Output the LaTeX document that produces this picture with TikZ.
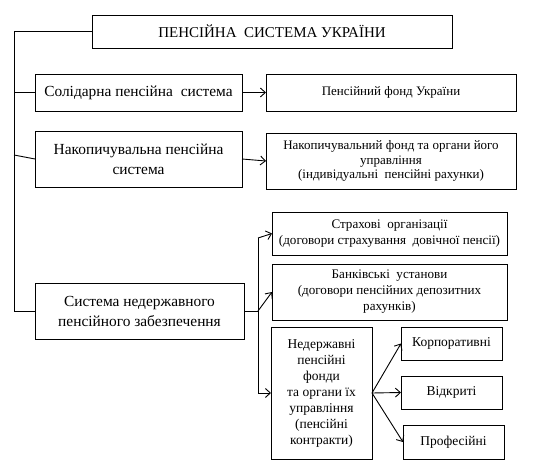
\documentclass[tikz,border=0pt]{standalone}
\usepackage{fontspec}
\setmainfont{Liberation Serif}
\newfontfamily\tnr{Liberation Serif}
\usetikzlibrary{arrows.meta}
\begin{document}
\begin{tikzpicture}[x=1pt,y=-1pt,
  box/.style={draw, line width=0.9pt, inner sep=1pt, align=center, outer sep=0pt},
  fbig/.style={font=\tnr\fontsize{15.4}{20}\selectfont},
  fsmall/.style={font=\tnr\fontsize{13}{14.5}\selectfont},
  fmid/.style={font=\tnr\fontsize{13.1}{16}\selectfont},
  fnar/.style={font=\tnr\fontsize{13.5}{16}\selectfont},
  conn/.style={line width=0.9pt},
  arr/.style={line width=0.9pt, -{Straight Barb[length=5pt,width=9pt,line width=0.9pt]}}]
\useasboundingbox (0,0) rectangle (554,473);
\fill[white] (0,0) rectangle (554,473);
% nodes
\node[box, minimum width=360pt, minimum height=33pt, font=\tnr\fontsize{15}{18}\selectfont] (title) at (272,31.5) {ПЕНСІЙНА~ СИСТЕМА УКРАЇНИ};
\node[box, fbig, minimum width=207pt, minimum height=37pt] (sol) at (138.5,92.5) {\raisebox{-1.5pt}{Солідарна пенсійна~ система}};
\node[box, fsmall, minimum width=250pt, minimum height=37pt] (pf) at (391,92.5) {\raisebox{3pt}{Пенсійний фонд України}};
\node[box, fbig, minimum width=207pt, minimum height=56pt] (nak) at (138.5,159) {Накопичувальна пенсійна\\система};
\node[box, fsmall, minimum width=250pt, minimum height=56pt] (nf) at (391,161) {Накопичувальний фонд та органи його\\управління\\(індивідуальні~ пенсійні рахунки)};
\node[box, fbig, minimum width=209pt, minimum height=56pt] (sys) at (139.5,311) {Система недержавного\\пенсійного забезпечення};
\node[box, fmid, minimum width=235pt, minimum height=43pt] (str) at (389.5,233.5) {Страхові~ організації\\(договори страхування~ довічної пенсії)};
\node[box, fmid, minimum width=235pt, minimum height=56pt] (bank) at (389.5,292) {Банківські~ установи\\(договори пенсійних депозитних\\рахунків)};
\node[box, fnar, minimum width=101pt, minimum height=132pt] (ndf) at (321.5,393) {Недержавні\\пенсійні\\фонди\\та органи їх\\управління\\(пенсійні\\контракти)};
\node[box, fnar, minimum width=101pt, minimum height=33pt] (korp) at (451.5,343.5) {Корпоративні};
\node[box, fnar, minimum width=101pt, minimum height=33pt] (vidk) at (451.5,392.5) {Відкриті};
\node[box, fnar, minimum width=101pt, minimum height=34pt] (prof) at (453.5,442) {Професійні};
% spine
\coordinate (lt) at (14,31.5);
\coordinate (lb) at (14,311);
\coordinate (ln) at (14,155);
\draw[conn] (title.west) -- (lt) -- (lb) -- (sys.west);
\draw[conn] (sol.west) -- (sol.west -| lt);
\draw[conn] (ln) -- (nak.west);
\draw[arr] (sol.east) -- (pf.west);
\draw[arr] (nak.east) -- (nf.west);
% fork
\coordinate (fk) at (258,311);
\coordinate (ft) at (258,238);
\coordinate (fb) at (258,393);
\draw[conn] (sys.east) -- (fk);
\draw[conn] (ft) -- (fb);
\draw[arr] (ft) -- (str.west);
\draw[arr] (fk) -- (bank.west);
\draw[arr] (fb) -- (ndf.west);
\draw[arr] (ndf.east) -- (korp.west);
\draw[arr] (ndf.east) -- (vidk.west);
\draw[arr] (ndf.east) -- (prof.west);
\end{tikzpicture}
\end{document}
